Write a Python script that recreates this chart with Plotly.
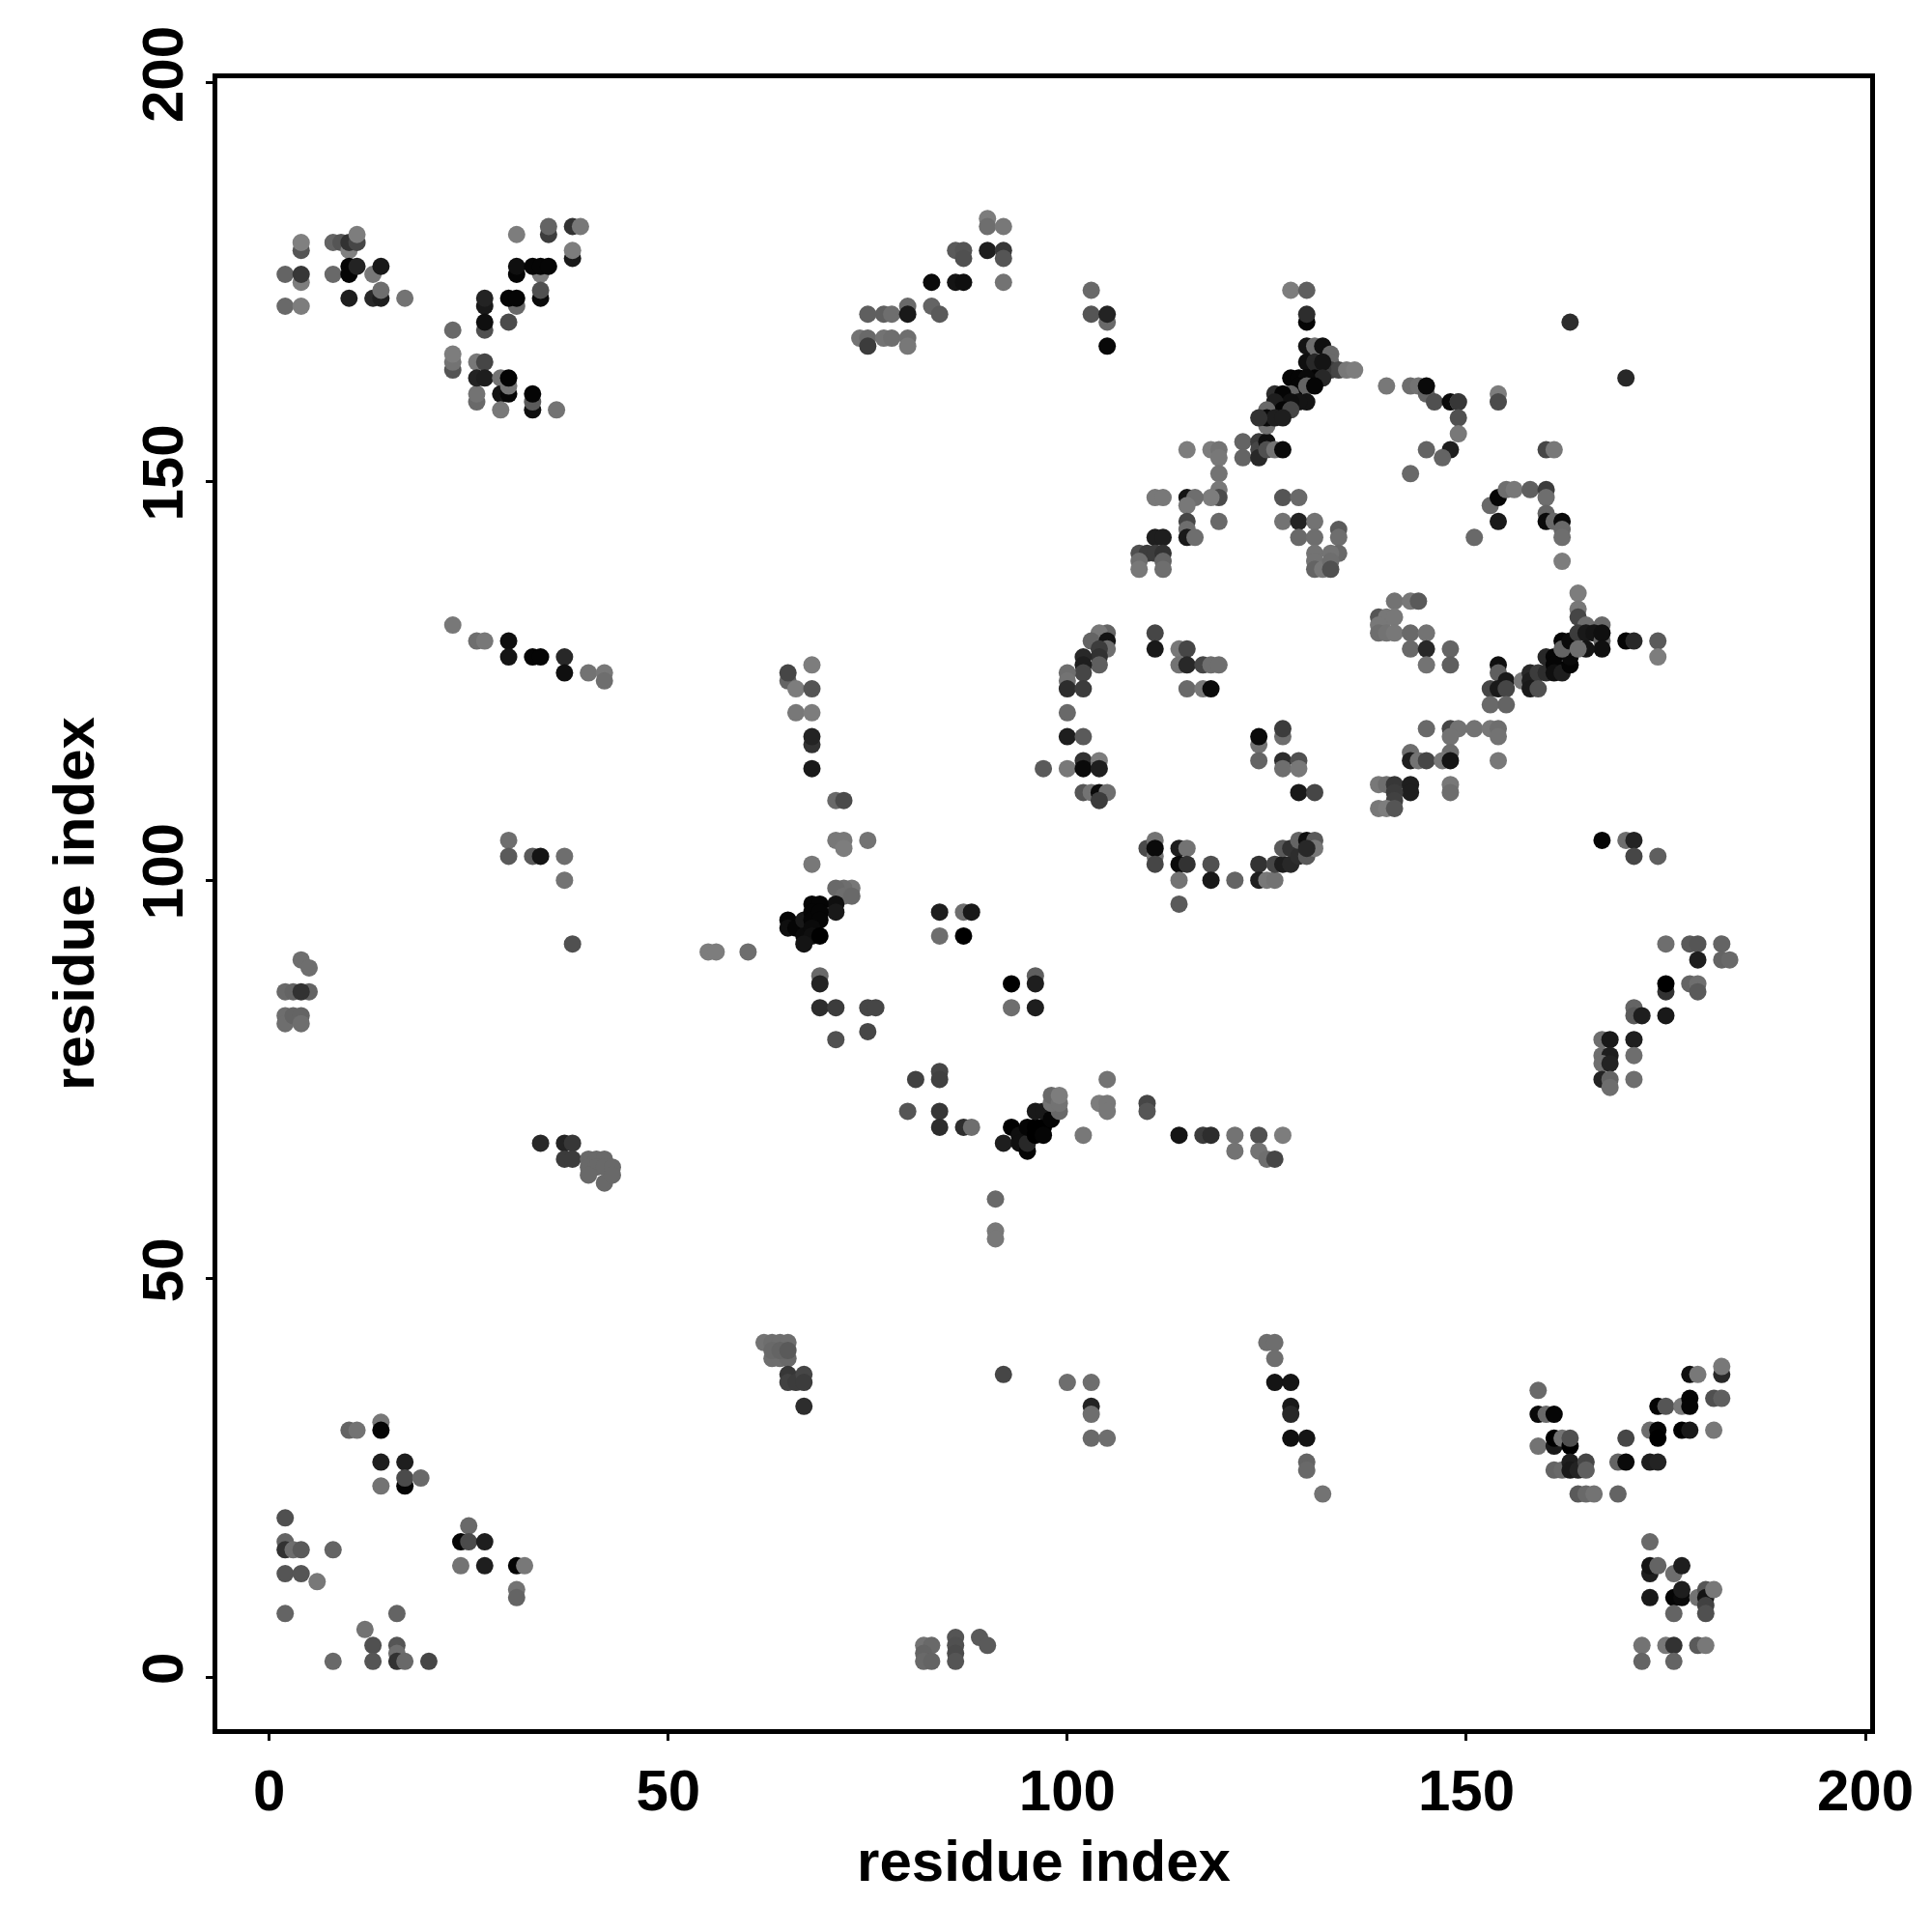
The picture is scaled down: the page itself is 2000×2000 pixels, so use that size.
import plotly.graph_objects as go

residue_x = [
 [2,4,2,4,4,4,4,8,8,9,10,10,11,11,10,10,11,13,14,10,13,14,14,17],
 [31,35,35,38,39,38,38,31,31,34,33,34,35,27,27,31,30,31,34,34,27,27,30,23,23,23,23,26,26,26,27,26,27,29,29,30,30,30,29,33,33,33,36],
 [23,26,27,30,30,33,34,37,37,40,42,42],
 [74,75,75,75,77,77,78,78,80,80,80,80,83,83,84,86,87,86,87,87,90,90,90,92,92,92,92],
 [103,103,105,105,105,128,130,130,130],
 [122,122,124,124,124,125,125,126,127],
 [130,131,132,133,133,133,134,135,136,132,130,131,132,130,131,132,128,129,130,129,130,131,126,128,127,130,129,128,126,127,128,125,125,125,126,127,124],
 [115,118,119,119,119,119,119,118,111,112,115,116,115,115,115,115,116,119,111,112,109,110,111,112,109,112,109,112],
 [127,129,127,129,131,129,131,134,134,134,131,131,131,132,133,133,133],
 [140,143,144,145,145,146,148,149,149,149,149,145,148,147,143,154,154,170,163,160,161],
 [151,153,154,154,155,156,158,160,160,160,160,161,162,162,162,162],
 [141,143,144,139,140,141,139,139,140,141,143,145,143,145,148,145,148],
 [170,171,174,174,154,154,155,153,154,155,153,155],
 [157,158,158,158,159,159,160,161,160,161,161,162,163,163,162,162,163,164,164,164,165,167,164,165,166,167,167,167,165,164],
 [145,148,149,151,153,154,148,154,148,143,143,144,145,147,148,154],
 [139,140,141,143,143,141,141,139,140,141,148,148,167,170,171,171,174],
 [105,104,103,105,105,104,104,102,104,102,102,100,100,100,102,100,100,102,97,100,102,102,104,104,102,103,104,105,104],
 [111,111,114,115,114,115,117,118,119,115,117,118],
 [124,124,124,127,127,127,127,129,129,129,131],
 [110,111,111,111,111,114,115,114,115,114,114,118,118,121,124,124,125,126],
 [126,127,128,127,128,129,130,129,130,131,131,130],
 [68,65,65,66,68,66,68,68,68,68,71,72,71,72,72,75,68],
 [73,72,71,72,73,71,71,68,69,65,65,66,67,67,68,68,69,69,68,68,67,69],
 [55,56,60,69,69,69,71,75,76,71,75],
 [84,87,88,84,87,96,93,96,93,96],
 [81,84,84,80,84,84,87,88],
 [92,93,94,94,94,95,95,95,96,97,96,97,96,97,98,99,98,98,99,99,102],
 [105,104,105,105,110,110,114,117,118,121,121,124,124,125,126,127,91,91,91],
 [34,37,38,37,38,40,41,42,40,41,42,43,40,42,43],
 [4,5,2,3,5,4,2,2,3,4,4],
 [30,30,33,34,37,37,38],
 [62,63,64,65,63,64,65,63,64,65,65,65,66,67,67,67],
 [92,100,103,103,103,103,105],
 [125,126,126,126,128,128,128,128,130,130,130,132],
 [159,159,160,161,159,161,161,162,163,163,161,162,163,163,164,165,165,164,165,166,169],
 [169,170,170,173,174,173,174,174,174,175,177,178,178,177,178,181,178,179,181,182,182,182],
 [173,173,173,174,176,177,173,176,177,177,179,180,180,180,180,181,176,172,175,176,179,180,172,176],
 [10,11,14,14,14,17,17,17,19,14],
 [2,2,2,3,4,8,2,4,6],
 [25,24,25,27,24,27,31,32,31,31],
 [2,16,12,13,16,16,8,13,16,17,20],
 [82,83,82,82,83,86,86,86,86,89,90],
 [167,168,167,168,167,168,167,168,168,171,171,171,171,171,172,175,175,175,175,178,179,178,179,179,179,182,182,183],
]

residue_y = [
 [172,172,176,175,176,179,180,176,180,180,179,180,180,181,177,176,177,176,177,173,173,173,174,173],
 [181,181,182,182,182,178,179,176,177,176,177,177,177,172,173,172,173,173,173,174,169,170,170,169,164,165,166,160,161,165,165,163,163,163,161,161,162,163,159,159,160,161,159],
 [132,130,130,130,128,128,128,128,126,126,126,125],
 [168,171,168,167,171,168,168,171,168,167,172,171,172,175,171,175,175,179,179,178,179,183,182,182,179,178,175],
 [174,171,170,171,167,174,174,170,171],
 [155,153,155,154,153,155,154,154,154],
 [167,167,167,166,165,164,164,164,164,164,165,165,165,163,163,163,163,163,163,162,162,162,161,161,161,160,160,160,160,159,159,159,157,158,158,158,158],
 [154,154,154,153,151,149,148,148,148,148,148,148,147,145,144,143,143,145,143,143,141,141,141,141,140,140,139,139],
 [148,148,145,145,145,143,143,144,143,141,141,140,139,139,141,140,139],
 [162,162,162,161,162,160,160,160,160,158,156,154,154,153,151,161,160,163,170,154,154],
 [143,147,148,145,149,149,149,149,148,146,145,145,145,144,143,140],
 [135,135,135,133,133,133,132,131,131,131,131,131,129,129,129,127,127],
 [130,130,130,128,127,126,125,124,124,124,122,122],
 [125,126,125,124,126,124,128,128,126,127,126,126,127,128,130,129,130,136,134,133,132,132,131,131,131,130,131,129,129,129],
 [119,119,119,119,119,119,118,118,116,116,115,115,115,115,115,115],
 [112,112,112,112,111,111,110,109,109,109,112,111,105,105,105,103,103],
 [131,131,130,130,129,129,128,128,127,127,126,126,125,124,124,121,118,118,114,114,115,114,115,114,111,111,111,111,110],
 [131,129,129,129,127,127,127,127,127,124,124,124],
 [117,118,115,118,119,115,114,115,114,111,111],
 [104,103,105,104,102,104,104,102,102,100,97,102,100,100,102,100,100,100],
 [102,102,102,104,104,103,103,105,105,105,104,104],
 [127,125,126,124,124,121,121,117,118,114,110,110,105,105,104,105,102],
 [99,99,99,98,98,97,96,97,97,95,94,94,95,93,96,95,96,95,94,93,92,93],
 [91,91,91,88,87,84,84,84,84,80,81],
 [96,96,96,93,93,88,87,87,84,84],
 [75,76,75,71,71,69,69,69],
 [67,69,68,68,67,66,67,69,69,69,68,68,71,71,70,71,72,73,72,73,68],
 [75,72,72,71,72,71,68,68,68,68,66,68,66,65,65,68,60,56,55],
 [67,67,67,65,65,65,65,65,64,64,64,64,63,62,63],
 [90,89,86,86,86,86,83,82,83,83,82],
 [105,103,103,103,103,100,92],
 [42,42,42,42,40,40,40,41,41,41,38,37,37,38,37,34],
 [38,37,37,34,33,30,30],
 [42,42,40,37,37,34,33,30,30,27,26,23],
 [36,33,33,33,29,29,30,30,29,30,26,26,27,26,26,27,26,23,23,23,23],
 [27,27,30,27,27,31,31,30,34,34,34,35,34,31,31,31,38,38,35,35,38,39],
 [17,13,14,14,13,14,10,10,10,11,10,11,10,9,8,11,8,4,4,4,4,4,2,2],
 [31,31,32,31,27,27,24,25,25,24],
 [20,17,16,16,16,16,13,13,12],
 [19,17,17,17,14,14,14,14,11,10],
 [8,8,6,4,4,3,2,2,2,2,2],
 [4,4,3,2,2,5,4,3,2,5,4],
 [80,80,78,78,77,77,75,75,74,80,78,75,84,83,83,83,86,87,92,87,87,92,92,90,86,92,90,90],
]

shade = [
 [105,125,100,125,55,85,128,105,100,85,128,50,70,125,5,5,35,120,25,30,40,30,110,115],
 [125,60,100,50,120,25,125,5,15,125,5,5,5,25,35,105,5,5,10,80,80,15,75,105,85,115,125,105,115,120,70,35,30,115,20,5,115,3,120,15,90,5,115],
 [120,110,120,15,20,5,5,40,15,115,120,110],
 [115,95,105,60,95,115,110,110,110,120,105,25,100,10,90,20,15,90,85,80,30,125,110,120,55,85,115],
 [105,85,105,35,8,125,95,5,45],
 [100,100,60,70,40,15,80,115,10],
 [20,110,15,105,105,60,70,120,125,60,15,40,20,5,5,40,5,5,10,5,100,5,45,100,5,20,20,15,30,5,70,105,115,10,30,30,50],
 [125,125,115,120,115,120,75,125,120,120,20,110,120,70,110,25,110,105,30,30,80,60,60,50,110,100,120,110],
 [85,105,115,35,115,105,110,90,110,105,115,115,100,120,115,110,80],
 [120,110,115,100,10,80,10,115,55,80,120,100,30,100,105,125,75,40,45,70,120],
 [105,105,5,25,110,120,95,60,110,100,10,105,10,105,110,125],
 [115,120,90,85,120,120,120,110,115,120,105,115,105,40,100,115,95],
 [5,40,90,125,15,95,25,70,25,70,105,100],
 [120,40,30,25,60,80,40,5,45,5,15,30,5,10,5,100,10,125,120,70,110,105,60,25,20,100,15,15,20,110],
 [105,70,115,115,120,110,115,115,110,110,30,115,70,120,20,120],
 [120,110,55,30,30,60,65,120,125,85,120,110,5,110,35,70,95],
 [100,120,100,20,110,60,50,40,95,30,70,110,115,45,60,105,30,90,90,120,50,10,125,30,85,115,10,110,60],
 [70,25,120,70,115,40,70,110,110,105,120,10],
 [115,10,100,110,60,45,110,80,120,25,70],
 [75,115,115,10,70,30,115,10,50,115,90,80,25,100,50,30,120,115],
 [70,30,40,90,50,45,90,100,15,90,120,40],
 [125,100,70,125,85,120,125,50,35,25,105,75,120,120,125,115,120],
 [120,110,105,110,105,15,25,5,5,5,15,5,25,10,5,5,5,5,10,15,20,0],
 [125,125,110,105,35,45,60,70,70,80,70],
 [30,110,25,110,0,95,0,30,110,30],
 [65,70,65,85,55,45,45,110],
 [30,0,10,15,15,5,40,5,0,0,0,5,25,25,5,105,115,105,115,125,120],
 [115,125,120,120,70,85,20,60,45,115,115,80,115,110,70,125,105,120,120],
 [40,35,55,60,60,105,105,105,105,105,105,105,105,105,105],
 [110,110,105,100,100,50,110,110,100,100,110],
 [110,90,90,20,110,115,80],
 [115,110,110,110,110,110,105,105,100,90,55,65,60,70,60,45],
 [70,110,110,35,110,105,110],
 [110,110,110,20,20,25,40,15,20,100,105,115],
 [105,10,105,5,115,25,0,115,0,80,100,105,30,25,35,70,95,90,105,115,100],
 [100,10,70,30,35,110,5,0,5,85,120,5,5,0,25,120,15,120,80,95,40,120],
 [105,30,20,100,110,30,25,5,10,30,115,85,20,65,80,120,100,115,120,50,90,120,100,100],
 [100,115,120,5,30,30,5,75,105,115],
 [80,100,50,110,90,100,85,85,120],
 [105,5,75,30,115,30,5,120,115,100],
 [100,100,115,80,85,110,105,85,50,105,70],
 [115,105,100,105,100,85,80,75,85,90,90],
 [110,25,110,30,110,35,35,100,110,30,110,110,100,90,30,25,50,0,110,100,110,90,85,30,90,100,100,105],
]

tick_values = [0, 50, 100, 150, 200]
axis_title = "residue index"

xs = [v for g in residue_x for v in g]
ys = [v for g in residue_y for v in g]
cs = [v for g in shade for v in g]

fig = go.Figure(go.Scatter(
    x=xs, y=ys, mode="markers",
    marker=dict(size=18, color=cs, colorscale=[[0, "#000000"], [1, "#ffffff"]],
                cmin=0, cmax=255, line=dict(width=0), showscale=False),
    hoverinfo="skip"))

font = dict(family="Liberation Sans", size=60, color="black", weight="bold")
axis = dict(tickvals=tick_values, ticks="outside", ticklen=7, tickwidth=3, tickcolor="black",
            showline=True, mirror=True, linewidth=5, linecolor="black",
            showgrid=False, zeroline=False, tickfont=font)
fig.update_layout(
    width=2000, height=2000, showlegend=False,
    paper_bgcolor="white", plot_bgcolor="white",
    margin=dict(l=217, r=72, t=73, b=218),
    xaxis=dict(axis, range=[-6.5, 200.6], title=dict(text=axis_title, font=font, standoff=20)),
    yaxis=dict(axis, range=[-6.5, 200.6], tickangle=-90, title=dict(text=axis_title, font=font, standoff=20)),
)
fig.write_html("out.html")
